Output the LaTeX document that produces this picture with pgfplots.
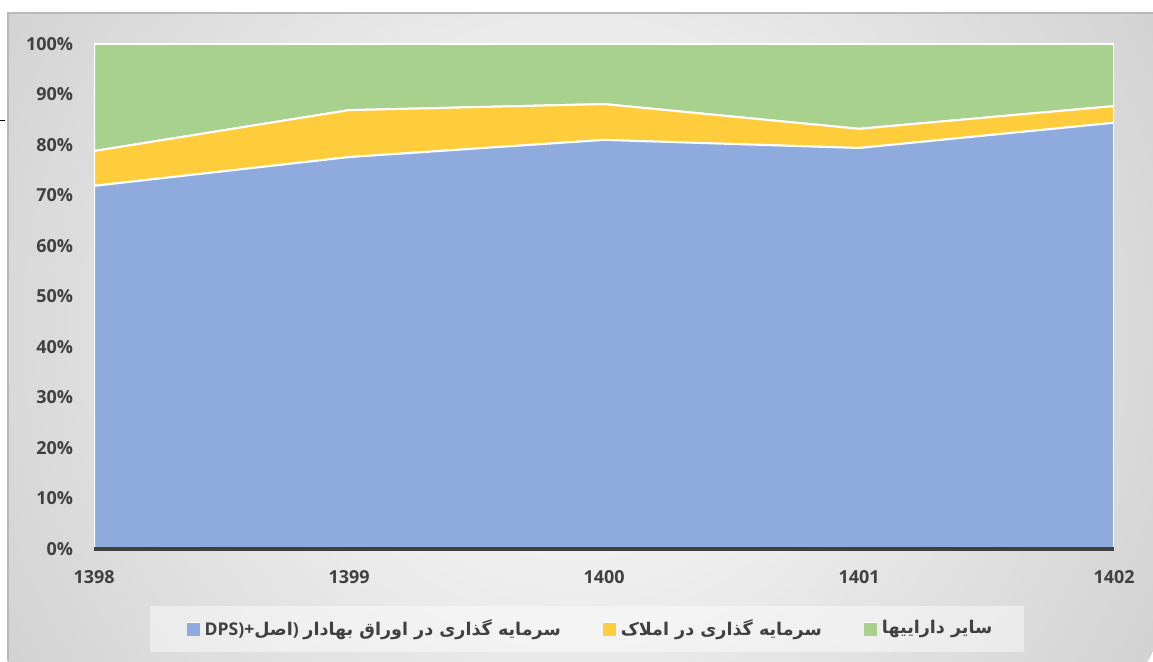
\documentclass[border=0pt]{standalone}
\usepackage{fontspec}
\setmainfont{Open Sans}
\newfontfamily\arabicfont[Script=Arabic]{DejaVu Sans}
\TeXXeTstate=1
\usepackage{pgfplots}
\pgfplotsset{compat=1.18}

\definecolor{cBlue}{HTML}{8FAADC}
\definecolor{cYellow}{HTML}{FFCD3C}
\definecolor{cGreen}{HTML}{A9D18E}
\definecolor{cText}{HTML}{404040}
% tikz maps a shading's 100bp box onto the path, so stops end at 50bp
\pgfdeclareradialshading{bgshade}{\pgfpoint{0bp}{0bp}}{%
  color(0bp)=(white!97!black); color(10bp)=(white!93!black);
  color(20bp)=(white!86!black); color(30bp)=(white!79!black);
  color(38bp)=(white!75!black); color(50bp)=(white!72!black)}

\newcommand{\legfont}{\bfseries\fontsize{8.8}{10}\selectfont}

\begin{document}
\begin{tikzpicture}[x=0.5bp,y=0.5bp]
% canvas measured in pixels of the 1153x661 chart, origin bottom left
\path[use as bounding box] (0,0) rectangle (1153,661);
\begin{scope}
  \clip (8,0) rectangle (1153,648);
  \shade[shading=bgshade] (576,330) circle (660);
\end{scope}
\draw[gray!55, line width=0.8bp] (8,0) -- (8,648) -- (1153,648);
\draw[black, line width=0.5bp] (0,540) -- (5,540);
% legend box
\fill[white, opacity=0.45] (150,9) rectangle (1024,55);

\begin{axis}[
    at={(47bp,56bp)}, anchor=south west,
    scale only axis, width=510bp, height=252.5bp,
    xmin=1398, xmax=1402, ymin=0, ymax=100,
    stack plots=y, area style,
    axis x line*=bottom, axis y line*=left,
    x axis line style={draw=cText, line width=2bp, -},
    y axis line style={draw=none, -},
    xtick={1398,1399,1400,1401,1402},
    ytick={0,10,...,100},
    major tick length=0,
    /pgf/number format/assume math mode=true,
    xticklabel style={/pgf/number format/1000 sep={}, yshift=-7bp},
    yticklabel={\pgfmathprintnumber{\tick}\%},
    yticklabel style={xshift=-7bp},
    ticklabel style={font=\bfseries\fontsize{9}{10}\selectfont, text=cText},
    legend style={at={(0.4877,-0.158)}, anchor=center, draw=none, fill=none,
      font=\legfont, text=cText, inner sep=0pt,
      /tikz/every even column/.append style={column sep=19bp}},
    legend columns=3,
    legend image code/.code={
      \path[#1, draw=none] (0bp,-3.5bp) rectangle (6.5bp,3.5bp);
      \draw[white, line width=0.6bp] (0bp,3.2bp) -- (6.5bp,3.2bp);},
  ]
  \addplot[fill=cBlue, draw=white, line width=1bp] coordinates
    {(1398,71.9) (1399,77.6) (1400,81.0) (1401,79.4) (1402,84.4)} \closedcycle;
  \addplot[fill=cYellow, draw=white, line width=1bp] coordinates
    {(1398,6.9) (1399,9.3) (1400,7.1) (1401,3.8) (1402,3.3)} \closedcycle;
  \addplot[fill=cGreen, draw=white, line width=1bp] coordinates
    {(1398,21.2) (1399,13.1) (1400,11.9) (1401,16.8) (1402,12.3)} \closedcycle;
  \addlegendentry{DPS)+{\arabicfont\beginR اصل\endR})\ {\arabicfont\beginR سرمایه گذاری در اوراق بهادار\endR}}
  \addlegendentry{{\arabicfont\beginR سرمایه گذاری در املاک\endR}}
  \addlegendentry{{\arabicfont\beginR سایر داراییها\endR}}
\end{axis}
\end{tikzpicture}
\end{document}
